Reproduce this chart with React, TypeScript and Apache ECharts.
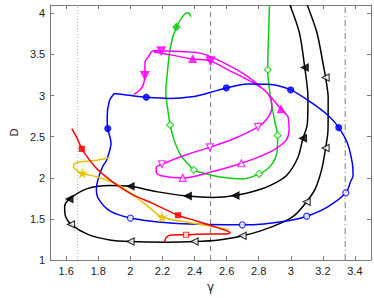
import React, { useEffect, useRef } from "react";
import * as echarts from "echarts";

const xTicks = [1.6, 1.8, 2, 2.2, 2.4, 2.6, 2.8, 3, 3.2, 3.4];
const yTicks = [1, 1.5, 2, 2.5, 3, 3.5, 4];
const refLines = [1.671, 2.5, 3.339];

const blueCurve = [
  [1.899, 3.024], [1.991, 3.003], [2.099, 2.979], [2.249, 2.965], [2.382, 2.985], [2.49, 3.033],
  [2.598, 3.092], [2.73, 3.139], [2.874, 3.133], [2.999, 3.068], [3.113, 2.934], [3.233, 2.757],
  [3.299, 2.61], [3.353, 2.421], [3.383, 2.184], [3.388, 2.026], [3.373, 1.955], [3.343, 1.817],
  [3.233, 1.651], [3.099, 1.533], [2.972, 1.474], [2.832, 1.44], [2.698, 1.429], [2.472, 1.434],
  [2.291, 1.446], [2.141, 1.47], [2.0, 1.511], [1.877, 1.592], [1.799, 1.751], [1.788, 1.869],
  [1.799, 1.987], [1.829, 2.145], [1.849, 2.204], [1.879, 2.421], [1.859, 2.598], [1.855, 2.737],
  [1.869, 2.934], [1.899, 3.024],
];
const blueFilled = [[2.099, 2.979], [2.598, 3.092], [2.999, 3.068], [3.299, 2.61], [1.859, 2.598]];
const blueOpen = [[3.343, 1.817], [3.099, 1.533], [2.698, 1.429], [2.0, 1.511]];

const blackCurve = [
  [2.995, 4.098], [3.053, 3.767], [3.087, 3.341], [3.107, 2.974], [3.103, 2.654], [3.076, 2.48],
  [3.043, 2.24], [2.972, 2.026], [2.873, 1.908], [2.792, 1.849], [2.655, 1.786], [2.512, 1.762],
  [2.358, 1.778], [2.171, 1.829], [2.001, 1.896], [1.871, 1.908], [1.731, 1.869], [1.62, 1.742],
  [1.59, 1.648], [1.596, 1.529], [1.63, 1.434], [1.731, 1.316], [1.871, 1.245], [2.001, 1.225],
  [2.231, 1.218], [2.4, 1.225], [2.552, 1.245], [2.7, 1.296], [2.812, 1.355], [2.941, 1.452],
  [3.025, 1.547], [3.099, 1.71], [3.153, 1.869], [3.193, 2.106], [3.217, 2.362], [3.232, 2.583],
  [3.233, 2.974], [3.217, 3.219], [3.203, 3.368], [3.163, 3.763], [3.103, 4.098],
];
const blackFilled = [[3.087, 3.341], [3.076, 2.48], [2.655, 1.786], [2.358, 1.778], [2.001, 1.896], [1.62, 1.742]];
const blackOpen = [[1.63, 1.434], [2.001, 1.225], [2.4, 1.225], [2.7, 1.296], [3.099, 1.71], [3.217, 2.362], [3.217, 3.219]];

const greenCurve = [
  [2.377, 3.956], [2.362, 4.007], [2.334, 3.98], [2.287, 3.834], [2.251, 3.605], [2.231, 3.29],
  [2.221, 3.033], [2.231, 2.855], [2.248, 2.642], [2.272, 2.461], [2.311, 2.283], [2.352, 2.184],
  [2.395, 2.097], [2.452, 2.058], [2.572, 2.006], [2.702, 1.987], [2.802, 2.047], [2.874, 2.145],
  [2.913, 2.302], [2.918, 2.515], [2.903, 2.657], [2.874, 2.974], [2.856, 3.313], [2.862, 3.767],
  [2.867, 4.098],
];
const greenFilled = [[2.287, 3.834]];
const greenOpen = [[2.248, 2.642], [2.395, 2.097], [2.802, 2.047], [2.918, 2.515], [2.856, 3.313]];

const magentaCurve = [
  [2.021, 3.013], [2.071, 3.092], [2.09, 3.242], [2.091, 3.408], [2.111, 3.467], [2.141, 3.545],
  [2.192, 3.542], [2.311, 3.534], [2.452, 3.506], [2.592, 3.388], [2.732, 3.23], [2.852, 3.033],
  [2.939, 2.835], [2.983, 2.737], [2.989, 2.579], [2.972, 2.461], [2.912, 2.362], [2.812, 2.263],
  [2.692, 2.177], [2.532, 2.086], [2.326, 1.999], [2.212, 2.018], [2.161, 2.066], [2.161, 2.125],
  [2.197, 2.165], [2.352, 2.283], [2.496, 2.37], [2.652, 2.48], [2.796, 2.618], [2.852, 2.717],
  [2.882, 2.855], [2.873, 2.974], [2.832, 3.072], [2.732, 3.19], [2.612, 3.309], [2.499, 3.42],
  [2.388, 3.444], [2.251, 3.494], [2.147, 3.53],
];
const magentaDownFilled = [[2.09, 3.242], [2.192, 3.542], [2.499, 3.42]];
const magentaUpFilled = [[2.388, 3.444], [2.939, 2.835]];
const magentaUpOpen = [[2.692, 2.177], [2.326, 1.999]];
const magentaDownOpen = [[2.197, 2.165], [2.496, 2.37], [2.796, 2.618]];

const redCurve = [
  [1.635, 2.598], [1.668, 2.48], [1.697, 2.352], [1.728, 2.263], [1.779, 2.133], [1.839, 2.026],
  [1.919, 1.908], [2.019, 1.79], [2.139, 1.69], [2.297, 1.545], [2.412, 1.476], [2.512, 1.414],
  [2.602, 1.355], [2.622, 1.334], [2.592, 1.316], [2.472, 1.316], [2.347, 1.308], [2.251, 1.304],
  [2.221, 1.269], [2.215, 1.218],
];
const redFilled = [[1.697, 2.352], [2.297, 1.545]];
const redOpen = [[2.347, 1.308]];

const yellowCurve = [
  [1.871, 2.245], [1.775, 2.21], [1.666, 2.186], [1.645, 2.145], [1.666, 2.092], [1.7, 2.056],
  [1.8, 2.006], [1.911, 1.928], [2.031, 1.77], [2.111, 1.651], [2.197, 1.523], [2.371, 1.455],
  [2.502, 1.411], [2.612, 1.369],
];
const yellowStars = [[1.7, 2.056], [2.197, 1.523]];

const BLUE = "#0000ff";
const BLACK = "#000000";
const GREEN = "#11cc11";
const MAGENTA = "#ff00ff";
const RED = "#ff0000";
const YELLOW = "#e8c100";
const STAR = "path://M50,0 L61,35 L98,35 L68,57 L79,91 L50,70 L21,91 L32,57 L2,35 L39,35 Z";
const FONT = "'Liberation Sans', Arial, sans-serif";
const AXIS_COLOR = "#7a7a7a";

function curve(data: number[][], color: string) {
  return {
    type: "line",
    data,
    symbol: "none",
    showSymbol: false,
    smooth: 0.3,
    silent: true,
    lineStyle: { color, width: 1.5 },
    z: 2,
  };
}

function markers(data: number[][], color: string, symbol: string, filled: boolean, size: number, rotate = 0) {
  return {
    type: "scatter",
    data,
    symbol,
    symbolSize: size,
    symbolRotate: rotate,
    silent: true,
    itemStyle: { color: filled ? color : "#ffffff", borderColor: color, borderWidth: 1.2 },
    z: 3,
  };
}

function refLine(x: number, type: any, color: string) {
  return {
    type: "line",
    data: [[x, 1], [x, 4.1]],
    symbol: "none",
    silent: true,
    lineStyle: { color, width: 1, type },
    z: 1,
  };
}

export default function App() {
  const ref = useRef<HTMLDivElement>(null);
  useEffect(() => {
    if (!ref.current) return;
    const chart = echarts.init(ref.current, null, { renderer: "svg" });
    const fmt = (v: number) => String(Math.round(v * 10) / 10);
    const baseX = {
      type: "value",
      min: 1.5,
      max: 3.5,
      splitLine: { show: false },
      axisLine: { show: true, onZero: false, lineStyle: { color: AXIS_COLOR, width: 1 } },
      axisTick: { show: true, inside: true, length: 4, customValues: xTicks, lineStyle: { color: AXIS_COLOR } },
    };
    const baseY = {
      type: "value",
      min: 1,
      max: 4.1,
      splitLine: { show: false },
      axisLine: { show: true, onZero: false, lineStyle: { color: AXIS_COLOR, width: 1 } },
      axisTick: { show: true, inside: true, length: 4, customValues: yTicks, lineStyle: { color: AXIS_COLOR } },
    };
    chart.setOption({
      animation: false,
      backgroundColor: "#ffffff",
      grid: { left: 38, right: 3, top: 5, bottom: 31, containLabel: false },
      xAxis: [
        {
          ...baseX,
          position: "bottom",
          axisLabel: { customValues: xTicks, formatter: fmt, color: "#222", fontSize: 11, fontFamily: FONT, margin: 5 },
          name: "γ",
          nameLocation: "middle",
          nameGap: 12,
          nameTextStyle: { color: "#222", fontSize: 12, fontFamily: "'DejaVu Sans', sans-serif" },
        },
        { ...baseX, position: "top", axisLabel: { show: false } },
      ],
      yAxis: [
        {
          ...baseY,
          position: "left",
          axisLabel: { customValues: yTicks, formatter: fmt, color: "#222", fontSize: 11, fontFamily: FONT, margin: 5 },
          name: "D",
          nameLocation: "middle",
          nameRotate: 90,
          nameGap: 29,
          nameTextStyle: { color: "#222", fontSize: 11, fontFamily: FONT },
        },
        { ...baseY, position: "right", axisLabel: { show: false } },
      ],
      series: [
        refLine(refLines[0], [1, 2], "#b0b0b0"),
        refLine(refLines[1], [5, 4], "#7a7a7a"),
        refLine(refLines[2], [6, 3, 1, 3], "#7a7a7a"),
        curve(blackCurve, BLACK),
        curve(greenCurve, GREEN),
        curve(magentaCurve, MAGENTA),
        curve(blueCurve, BLUE),
        curve(yellowCurve, YELLOW),
        curve(redCurve, RED),
        markers(blackFilled, BLACK, "triangle", true, 7, 90),
        markers(blackOpen, BLACK, "triangle", false, 7, 90),
        markers(greenFilled, GREEN, "diamond", true, 7),
        markers(greenOpen, GREEN, "diamond", false, 7),
        markers(magentaDownFilled, MAGENTA, "triangle", true, 8, 180),
        markers(magentaUpFilled, MAGENTA, "triangle", true, 7),
        markers(magentaUpOpen, MAGENTA, "triangle", false, 7),
        markers(magentaDownOpen, MAGENTA, "triangle", false, 7, 180),
        markers(blueFilled, BLUE, "circle", true, 6),
        markers(blueOpen, BLUE, "circle", false, 6),
        markers(yellowStars, YELLOW, STAR, true, 8),
        markers(redFilled, RED, "rect", true, 5),
        markers(redOpen, RED, "rect", false, 5),
      ],
    });
    return () => chart.dispose();
  }, []);
  return (
    <div
      ref={ref}
      style={{ position: "fixed", left: 0, top: 0, width: 374, height: 298, background: "#fff" }}
    />
  );
}
